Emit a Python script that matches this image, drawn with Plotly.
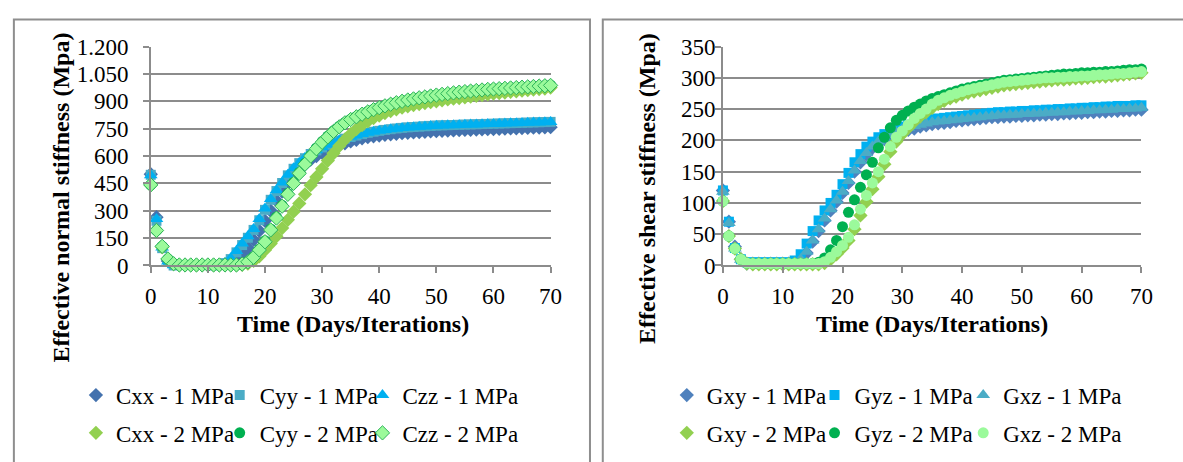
import plotly.graph_objects as go

# ---------------- data ----------------
days = list(range(0, 71))
x_ticks = [0, 10, 20, 30, 40, 50, 60, 70]

normal_ticks = [0, 150, 300, 450, 600, 750, 900, 1050, 1200]
normal_ticktext = ["0", "150", "300", "450", "600", "750", "900", "1.050", "1.200"]
shear_ticks = [0, 50, 100, 150, 200, 250, 300, 350]
shear_ticktext = ["0", "50", "100", "150", "200", "250", "300", "350"]

Cxx_1 = [500, 265, 105, 25, -8, -10, -10, -10, -10, -10,
         -10, -10, -8, -4, 5, 25, 55, 95, 140, 190,
         245, 300, 355, 405, 450, 490, 525, 555, 580, 600,
         618, 633, 647, 659, 670, 680, 689, 697, 703, 708,
         712, 716, 719, 722, 725, 727, 729, 731, 733, 735,
         736, 738, 739, 740, 742, 743, 744, 745, 746, 747,
         748, 749, 750, 751, 752, 753, 754, 755, 756, 757,
         758]
Cyy_1 = [497, 245, 95, 20, 0, -2, -2, -2, -2, -2,
         -2, 0, 4, 13, 35, 72, 112, 152, 195, 248,
         305, 360, 408, 452, 494, 530, 561, 588, 611, 631,
         647, 661, 674, 685, 695, 704, 712, 720, 727, 733,
         738, 743, 747, 751, 754, 757, 759, 761, 763, 765,
         767, 768, 769, 770, 771, 772, 773, 774, 775, 776,
         777, 778, 779, 780, 781, 782, 783, 784, 785, 786,
         787]
Czz_1 = [495, 255, 98, 22, 2, 0, 0, 0, 0, 0,
         0, 2, 5, 15, 40, 80, 120, 160, 200, 255,
         312, 365, 412, 455, 497, 533, 563, 590, 612, 632,
         648, 662, 675, 686, 696, 705, 713, 720, 727, 733,
         738, 742, 746, 750, 753, 756, 758, 760, 762, 764,
         766, 767, 768, 769, 770, 771, 772, 773, 774, 775,
         776, 777, 778, 779, 780, 781, 782, 783, 784, 785,
         786]
Cxx_2 = [440, 190, 100, 35, 8, 2, 2, 2, 2, 2,
         2, 2, 2, 2, 2, 2, 4, 10, 25, 50,
         85, 120, 160, 205, 250, 295, 340, 390, 440, 485,
         530, 575, 615, 655, 690, 720, 747, 770, 790, 808,
         822, 835, 846, 856, 865, 872, 879, 885, 890, 895,
         900, 905, 910, 914, 918, 922, 926, 930, 934, 938,
         942, 945, 948, 952, 955, 958, 961, 964, 967, 970,
         975]
Cyy_2 = [442, 192, 105, 36, 10, 3, 3, 3, 3, 3,
         3, 3, 3, 3, 3, 3, 9, 22, 48, 90,
         136, 200, 266, 330, 395, 455, 510, 560, 604, 644,
         679, 709, 738, 763, 784, 802, 817, 831, 844, 856,
         867, 877, 886, 894, 901, 908, 914, 920, 925, 930,
         935, 939, 943, 947, 951, 954, 957, 960, 963, 966,
         968, 970, 972, 974, 976, 978, 980, 982, 984, 986,
         988]
Czz_2 = [442, 192, 105, 36, 10, 3, 3, 3, 3, 3,
         3, 3, 3, 3, 3, 3, 8, 20, 45, 85,
         130, 195, 260, 325, 390, 450, 505, 555, 600, 640,
         675, 705, 735, 760, 782, 800, 815, 829, 842, 854,
         865, 875, 884, 892, 900, 907, 913, 919, 924, 929,
         934, 938, 942, 946, 950, 953, 956, 959, 962, 965,
         967, 969, 971, 973, 975, 977, 979, 981, 983, 985,
         987]

Gxy_1 = [120, 70, 30, 10, 3, 3, 3, 3, 3, 3,
         3, 3, 4, 8, 20, 38, 55, 72, 88, 102,
         116, 132, 150, 165, 178, 188, 196, 202, 207, 211,
         214, 217, 219, 222, 224, 226, 227, 228, 229, 231,
         232, 233, 234, 235, 236, 237, 237, 238, 238, 239,
         239, 240, 240, 241, 241, 242, 242, 243, 243, 244,
         244, 245, 245, 246, 246, 247, 247, 248, 248, 249,
         249]
Gyz_1 = [120, 70, 28, 10, 5, 5, 5, 5, 5, 5,
         5, 5, 8, 18, 35, 55, 72, 88, 100, 113,
         130, 148, 165, 178, 190, 198, 205, 210, 215, 219,
         222, 225, 228, 230, 232, 234, 235, 236, 237, 238,
         239, 240, 241, 242, 243, 244, 245, 245, 246, 246,
         247, 247, 248, 248, 249, 249, 250, 250, 251, 251,
         252, 252, 253, 253, 254, 254, 255, 255, 255, 256,
         256]
Gxz_1 = [118, 68, 27, 9, 4, 4, 4, 4, 4, 4,
         4, 4, 5, 10, 22, 40, 58, 75, 90, 104,
         118, 135, 152, 167, 180, 190, 198, 204, 209, 213,
         217, 220, 223, 225, 227, 229, 230, 231, 232, 233,
         234, 235, 236, 237, 238, 239, 240, 240, 241, 241,
         242, 242, 243, 243, 244, 244, 245, 245, 246, 246,
         247, 247, 248, 248, 249, 249, 250, 250, 251, 251,
         252]
Gxy_2 = [103, 47, 27, 10, 3, 2, 2, 2, 2, 2,
         2, 2, 2, 2, 2, 2, 2, 4, 10, 18,
         28, 40, 58, 80, 102, 122, 142, 162, 182, 198,
         210, 220, 230, 238, 245, 252, 258, 263, 267, 270,
         273, 276, 278, 280, 282, 284, 286, 288, 289, 290,
         291, 292, 293, 294, 295, 296, 297, 297, 298, 299,
         299, 300, 301, 302, 302, 303, 304, 305, 306, 307,
         308]
Gyz_2 = [103, 47, 27, 10, 4, 3, 3, 3, 3, 3,
         3, 3, 3, 3, 3, 3, 5, 12, 25, 40,
         62, 85, 105, 125, 145, 165, 188, 205, 220, 232,
         240, 247, 253, 258, 263, 267, 270, 273, 276, 279,
         282, 284, 286, 288, 290, 292, 294, 296, 297, 298,
         299, 300, 301, 302, 303, 304, 305, 306, 306, 307,
         308, 308, 309, 309, 310, 310, 311, 312, 313, 313,
         314]
Gxz_2 = [103, 47, 27, 10, 4, 3, 3, 3, 3, 3,
         3, 3, 3, 3, 3, 3, 3, 6, 13, 22,
         32, 45, 65, 90, 112, 132, 150, 170, 190, 205,
         215, 225, 235, 243, 250, 258, 264, 268, 272, 275,
         278, 281, 283, 285, 287, 289, 291, 293, 294, 295,
         296, 297, 298, 299, 300, 300, 301, 301, 302, 302,
         303, 303, 304, 305, 305, 306, 307, 307, 308, 309,
         310]

# ---------------- figure ----------------
W, H = 1183, 462
FONT = "Liberation Serif"
GRID = "#8C8C8C"


def px(x):
    return x / W


def py(y):
    return 1 - y / H


fig = go.Figure()

# name, values, symbol, color, size, edge colour, axes, legend column, legend row
series = [
    ("Cxx - 1 MPa", Cxx_1, "diamond", "#4472AE", 11, None, "x", "y", 0, 0),
    ("Cyy - 1 MPa", Cyy_1, "square", "#4BACC6", 10, None, "x", "y", 1, 0),
    ("Czz - 1 MPa", Czz_1, "triangle-up", "#00B0F0", 12, None, "x", "y", 2, 0),
    ("Cxx - 2 MPa", Cxx_2, "diamond", "#92D050", 11, None, "x", "y", 0, 1),
    ("Cyy - 2 MPa", Cyy_2, "circle", "#00B050", 11, None, "x", "y", 1, 1),
    ("Czz - 2 MPa", Czz_2, "diamond", "#9BFA9B", 11, "#2DB35A", "x", "y", 2, 1),
    ("Gxy - 1 MPa", Gxy_1, "diamond", "#4F81BD", 11, None, "x2", "y2", 0, 0),
    ("Gyz - 1 MPa", Gyz_1, "square", "#00B0F0", 10, None, "x2", "y2", 1, 0),
    ("Gxz - 1 MPa", Gxz_1, "triangle-up", "#4BACC6", 12, None, "x2", "y2", 2, 0),
    ("Gxy - 2 MPa", Gxy_2, "diamond", "#92D050", 11, None, "x2", "y2", 0, 1),
    ("Gyz - 2 MPa", Gyz_2, "circle", "#00B050", 11, None, "x2", "y2", 1, 1),
    ("Gxz - 2 MPa", Gxz_2, "circle", "#9BFA9B", 11, None, "x2", "y2", 2, 1),
]

# legend marker centres (px) for each column, per chart; row centres (px)
legend_cols = {"x": [99, 245, 390], "x2": [699, 849, 1000]}
legend_rows = [396, 436]

legend_common = dict(orientation="h", bgcolor="rgba(0,0,0,0)", borderwidth=0,
                     font=dict(family=FONT, size=23, color="black"),
                     xanchor="left", yanchor="middle", itemclick=False,
                     itemdoubleclick=False)

legend_layout = {}
for i, (name, vals, sym, col, size, lcol, xa, ya, c, r) in enumerate(series):
    lg = "legend" if i == 0 else f"legend{i + 1}"
    marker = dict(symbol=sym, color=col, size=size,
                  line=dict(width=1 if lcol else 0, color=lcol or col))
    fig.add_trace(go.Scatter(
        x=days, y=vals, name=name, mode="markers", marker=marker,
        xaxis=xa, yaxis=ya, legend=lg, cliponaxis=False,
    ))
    legend_layout[lg] = dict(x=px(legend_cols[xa][c] - 28),
                             y=py(legend_rows[r] + 9), **legend_common)

tickfont = dict(family=FONT, size=23, color="black")
xcommon = dict(range=[0, 70], tickvals=x_ticks, showgrid=False, zeroline=False,
               showline=True, linecolor=GRID, linewidth=1.5, ticks="outside",
               tickcolor=GRID, ticklen=6, tickwidth=1.5, tickfont=tickfont,
               ticklabelstandoff=3)
ycommon = dict(showgrid=True, gridcolor=GRID, gridwidth=1.5, zeroline=False,
               showline=True, linecolor=GRID, linewidth=1.5, ticks="outside",
               tickcolor=GRID, ticklen=6, tickwidth=1.5, tickfont=tickfont)

fig.update_layout(
    width=W, height=H, margin=dict(l=0, r=0, t=0, b=0),
    paper_bgcolor="white", plot_bgcolor="white",
    xaxis=dict(domain=[px(147), px(553)], anchor="y", **xcommon),
    yaxis=dict(domain=[py(268), py(36.5)], anchor="x", range=[0, 1200],
               tickvals=normal_ticks, ticktext=normal_ticktext,
               ticklabelstandoff=10, **ycommon),
    xaxis2=dict(domain=[px(728), px(1153)], anchor="y2", **xcommon),
    yaxis2=dict(domain=[py(268), py(36.5)], anchor="x2", range=[0, 350],
                tickvals=shear_ticks, ticktext=shear_ticktext,
                ticklabelstandoff=-5, **ycommon),
    showlegend=True,
    **legend_layout,
)

title_font = dict(family=FONT, size=24, color="black", weight="bold")
fig.add_annotation(text="Effective normal stiffness (Mpa)", x=px(56), y=py(196),
                   xref="paper", yref="paper", textangle=-90, showarrow=False,
                   font=title_font, xanchor="center", yanchor="middle")
fig.add_annotation(text="Effective shear stiffness (Mpa)", x=px(651), y=py(187),
                   xref="paper", yref="paper", textangle=-90, showarrow=False,
                   font=title_font, xanchor="center", yanchor="middle")
fig.add_annotation(text="Time (Days/Iterations)", x=px(352), y=py(330),
                   xref="paper", yref="paper", showarrow=False,
                   font=title_font, xanchor="center", yanchor="middle")
fig.add_annotation(text="Time (Days/Iterations)", x=px(940), y=py(330),
                   xref="paper", yref="paper", showarrow=False,
                   font=title_font, xanchor="center", yanchor="middle")

frame = dict(color="#8E8E8E", width=2)
fig.add_shape(type="rect", xref="paper", yref="paper",
              x0=px(8), x1=px(593), y0=-0.05, y1=py(8), line=frame)
fig.add_shape(type="rect", xref="paper", yref="paper",
              x0=px(606), x1=1.05, y0=-0.05, y1=py(8), line=frame)

fig.write_html("out.html")
